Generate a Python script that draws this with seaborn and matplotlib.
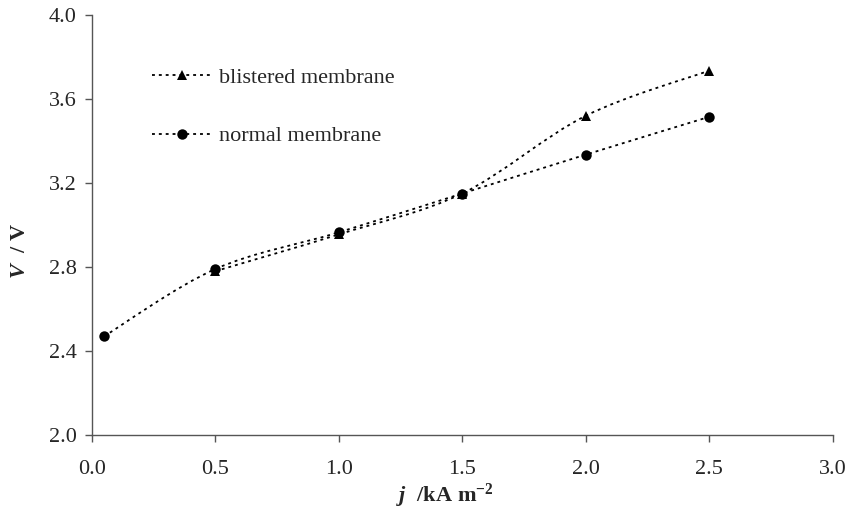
import matplotlib
matplotlib.use("Agg")
import matplotlib.pyplot as plt
from matplotlib.path import Path
from matplotlib.patches import PathPatch
import seaborn as sns
import pandas as pd

# Cell voltage vs. current density for two membrane conditions
blistered_j = [0.5, 1.0, 1.5, 2.0, 2.5]
blistered_v = [2.78, 2.955, 3.15, 3.52, 3.735]
normal_j = [0.05, 0.5, 1.0, 1.5, 2.0, 2.5]
normal_v = [2.47, 2.79, 2.965, 3.15, 3.335, 3.515]
series_names = ["blistered membrane", "normal membrane"]
x_ticks = [0.0, 0.5, 1.0, 1.5, 2.0, 2.5, 3.0]
y_ticks = [2.0, 2.4, 2.8, 3.2, 3.6, 4.0]

DASH = (0, (1.6, 2.2))

df = pd.concat([
    pd.DataFrame({"j": blistered_j, "V": blistered_v, "membrane": series_names[0]}),
    pd.DataFrame({"j": normal_j, "V": normal_v, "membrane": series_names[1]}),
], ignore_index=True)


def smooth_path(xs, ys):
    """Catmull-Rom style cubic Bezier through the data points."""
    pts = list(zip(xs, ys))
    verts = [pts[0]]
    codes = [Path.MOVETO]
    n = len(pts)
    for i in range(n - 1):
        p0 = pts[i - 1] if i > 0 else pts[i]
        p1 = pts[i]
        p2 = pts[i + 1]
        p3 = pts[i + 2] if i + 2 < n else pts[i + 1]
        c1 = (p1[0] + (p2[0] - p0[0]) / 6, p1[1] + (p2[1] - p0[1]) / 6)
        c2 = (p2[0] - (p3[0] - p1[0]) / 6, p2[1] - (p3[1] - p1[1]) / 6)
        verts += [c1, c2, p2]
        codes += [Path.CURVE4] * 3
    return Path(verts, codes)


sns.set_theme(style="ticks")
plt.rcParams["font.family"] = ["Liberation Serif", "DejaVu Serif"]
plt.rcParams["mathtext.fontset"] = "custom"
plt.rcParams["mathtext.rm"] = "Liberation Serif"
plt.rcParams["mathtext.it"] = "Liberation Serif:italic:bold"
plt.rcParams["mathtext.bf"] = "Liberation Serif:bold"

fig = plt.figure(figsize=(8.52, 5.12), dpi=100)
ax = fig.add_axes([91.7 / 852, 77 / 512, 741 / 852, 420 / 512])

# markers for each series
sns.lineplot(
    data=df, x="j", y="V", hue="membrane", style="membrane",
    hue_order=series_names, style_order=series_names,
    palette={series_names[0]: "black", series_names[1]: "black"},
    markers={series_names[0]: "^", series_names[1]: "o"},
    dashes=False, markersize=7.5, markeredgewidth=0, linewidth=0,
    sort=False, ax=ax, zorder=3,
)

# smoothed dotted connecting lines
for xs, ys in ((blistered_j, blistered_v), (normal_j, normal_v)):
    ax.add_patch(PathPatch(smooth_path(xs, ys), facecolor="none",
                           edgecolor="black", linewidth=1.3, linestyle=DASH,
                           zorder=2))

ax.set_xlim(0, 3.0)
ax.set_ylim(2.0, 4.0)
ax.set_xticks(x_ticks)
ax.set_yticks(y_ticks)
ax.set_xticklabels([f"{t:.1f}" for t in x_ticks])
ax.set_yticklabels([f"{t:.1f}" for t in y_ticks])
ax.tick_params(axis="both", direction="out", length=5, width=1,
               color="#555555", labelsize=16)
ax.tick_params(axis="x", pad=13)
ax.tick_params(axis="y", pad=6)

for side in ("top", "right"):
    ax.spines[side].set_visible(False)
for side in ("left", "bottom"):
    ax.spines[side].set_color("#555555")
    ax.spines[side].set_linewidth(1)

ax.set_xlabel(r"$\mathit{j}\ \ \mathbf{/kA\ m}^{\mathbf{-2}}$", fontsize=16)
ax.xaxis.set_label_coords(0.476, -0.112)
ax.set_ylabel(r"$\mathit{V}\ \ \mathbf{/\ V}$", fontsize=16)
ax.yaxis.set_label_coords(-0.083, 0.438)

handles, labels = ax.get_legend_handles_labels()
for h in handles:
    h.set_linewidth(1.3)
    h.set_linestyle(DASH)
ax.legend(handles, labels, loc="upper left", bbox_to_anchor=(0.081, 0.875),
          frameon=False, fontsize=16, handlelength=2.7, handletextpad=0.35,
          labelspacing=1.7, borderpad=0, borderaxespad=0)

fig.savefig("out.png", dpi=100)
